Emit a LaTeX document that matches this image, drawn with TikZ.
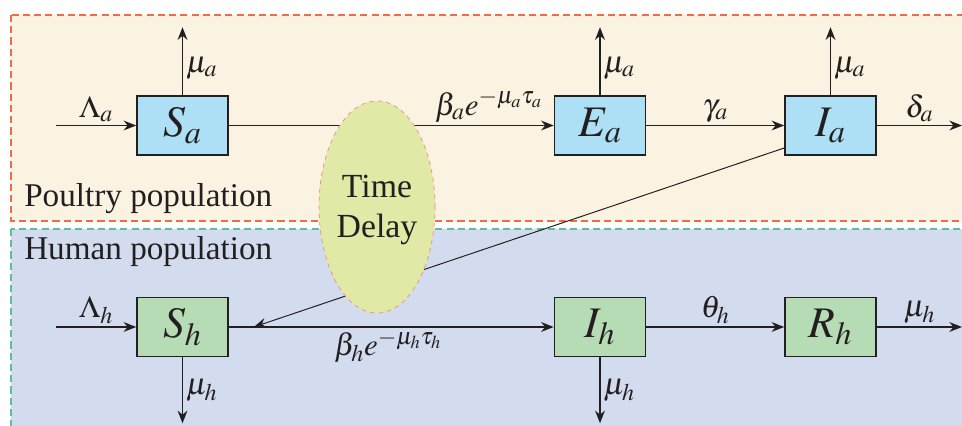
\documentclass[tikz,border=0pt]{standalone}
\usepackage{mathptmx}
\usepackage[no-math]{fontspec}
\setmainfont{Liberation Serif}
\usetikzlibrary{arrows.meta,shapes.geometric,calc}
\DeclareMathSizes{22}{22}{17}{13}
\definecolor{ink}{HTML}{231F20}
\definecolor{cream}{HTML}{FBF3E2}
\definecolor{haze}{HTML}{D3DCEE}
\definecolor{coral}{HTML}{F26B45}
\definecolor{jade}{HTML}{5CBF95}
\definecolor{sky}{HTML}{ADDFF5}
\definecolor{sage}{HTML}{B6DCB6}
\definecolor{lime}{HTML}{E1E9A6}
\definecolor{blush}{HTML}{F08A80}

\begin{document}
\begin{tikzpicture}[x=0.025cm,y=-0.025cm,
    comp/.style={draw=ink,line width=1.1pt,minimum width=2.275cm,minimum height=1.475cm,
                 inner sep=0pt,text=ink,font=\fontsize{31}{34}\selectfont},
    birds/.style={comp,fill=sky},
    people/.style={comp,fill=sage},
    flow/.style={-{Stealth[length=9pt,width=7pt]},line width=1pt,ink},
    rate/.style={font=\fontsize{22}{24}\selectfont,text=ink,inner sep=2pt},
    band/.style={line width=0.8pt,dash pattern=on 5pt off 3pt},
    title/.style={anchor=base west,inner sep=0pt,text=ink,font=\fontsize{23.6}{28}\selectfont}]
  \useasboundingbox (0,0) rectangle (962,426);
  \clip (0,0) rectangle (962,426);

  % population bands
  \draw[band,draw=coral,fill=cream] (11,15) rectangle (990,221);
  \draw[band,draw=jade,fill=haze] (11,229) rectangle (990,450);
  \node[title] (poultry) at (24,207) {Poultry population};
  \node[title] (human) at (24,260) {Human population};

  % compartments
  \node[birds]  (Sa) at (182.5,125.5) {$S_a$};
  \node[birds]  (Ea) at (600,125.5)   {$E_a$};
  \node[birds]  (Ia) at (830.5,125.5) {$I_a$};
  \node[people] (Sh) at (182.5,327)   {$S_h$};
  \node[people] (Ih) at (600,327)     {$I_h$};
  \node[people] (Rh) at (830.5,327)   {$R_h$};

  \coordinate (inA)  at (56,125.5);
  \coordinate (inH)  at (56,327);
  \coordinate (outA) at (962,125.5);
  \coordinate (outH) at (962,327);
  \coordinate (hit)  at ($(Sh.east)+(25,0)$);

  % cross infection, under the delay
  \draw[flow,line width=0.7pt] ($(Ia.west)+(0,22.5)$) -- (hit);
  \draw[flow] (Sa) -- node[rate,above,pos=0.8]{$\beta_a e^{-\mu_a\tau_a}$} (Ea);
  \node[ellipse,draw=blush,dashed,line width=0.5pt,fill=lime,minimum width=2.9cm,
        minimum height=5.3cm] (delay) at (377,207) {};
  \node[align=center,text=ink,font=\fontsize{24}{28.5}\selectfont]
        (delaytext) at ($(delay)+(0,3)$) {Time\\Delay};

  % poultry flows
  \draw[flow] (inA) -- node[rate,above]{$\Lambda_a$} (Sa);
  \draw[flow] (Ea) -- node[rate,above]{$\gamma_a$} (Ia);
  \draw[flow] (Ia) -- node[rate,above]{$\delta_a$} (outA);
  \foreach \n in {Sa,Ea,Ia}{
    \coordinate (\n up) at ($(\n.north)+(0,-68)$);
    \draw[flow] (\n) -- node[rate,right,pos=0.4]{$\mu_a$} (\n up);
  }

  % human flows
  \draw[flow] (inH) -- node[rate,above]{$\Lambda_h$} (Sh);
  \draw[flow] (Sh) -- node[rate,below,pos=0.49]{$\beta_h e^{-\mu_h\tau_h}$} (Ih);
  \draw[flow] (Ih) -- node[rate,above]{$\theta_h$} (Rh);
  \draw[flow] (Rh) -- node[rate,above]{$\mu_h$} (outH);
  \foreach \n in {Sh,Ih}{
    \coordinate (\n down) at ($(\n.south)+(0,66)$);
    \draw[flow] (\n) -- node[rate,right]{$\mu_h$} (\n down);
  }
\end{tikzpicture}
\end{document}
